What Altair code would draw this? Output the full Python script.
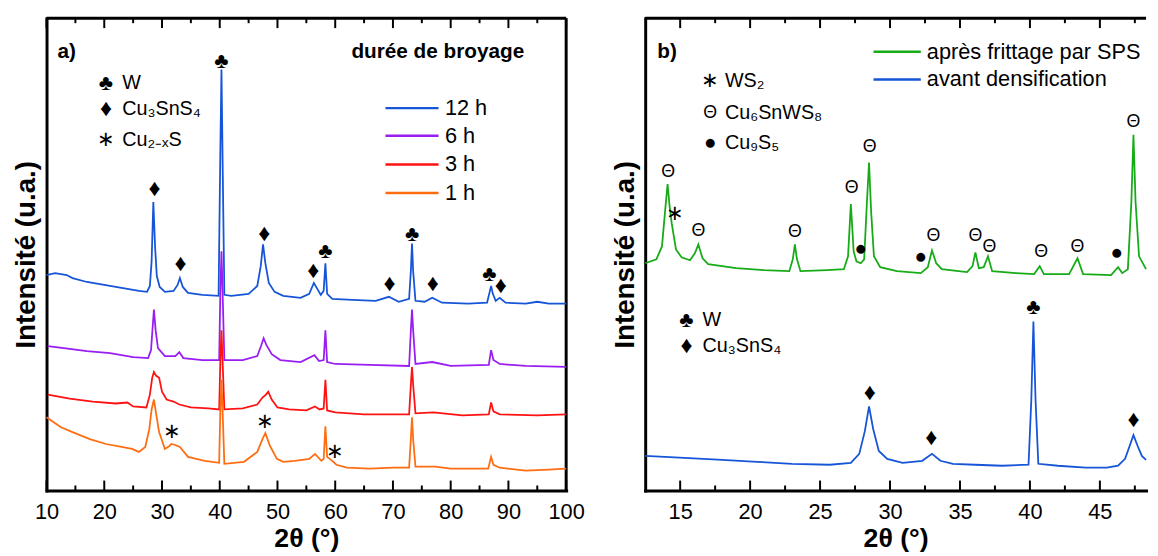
import altair as alt
import pandas as pd

FONT = "Liberation Sans"
PLOT_H = 478
WIDTH_A = 526
WIDTH_B = 507
Y_DOMAIN = [0, 478]
XDOM_A = [10, 100]
XDOM_B = [12.5, 48.3]

# ---------------- panel a : durée de broyage ----------------
series_a = ["12 h", "6 h", "3 h", "1 h"]
colors_a = ["#1655d8", "#9a1ef2", "#ff1212", "#ff6d12"]

theta_12h = [10.0, 11.5, 13.5, 14.5, 17.0, 20.0, 23.0, 26.0, 27.4, 27.9, 28.2, 28.5, 28.8, 29.1, 29.6,
             30.5, 32.0, 32.7, 33.1, 33.6, 34.5, 37.0, 39.8, 40.1, 40.3, 40.5, 40.8, 42.0, 45.0, 46.5,
             47.1, 47.5, 47.9, 48.5, 49.5, 51.0, 54.0, 55.5, 56.3, 56.9, 57.5, 58.0, 58.3, 58.6, 59.5,
             63.0, 67.0, 69.3, 71.0, 72.8, 73.1, 73.3, 73.5, 73.9, 75.5, 76.8, 78.5, 83.0, 86.3, 86.8,
             87.0, 87.3, 87.8, 88.5, 89.5, 93.0, 95.0, 97.0, 100.0]
int_12h = [218, 220, 218, 215, 211, 208, 205, 202, 201, 207, 232, 292, 247, 217, 206,
           201, 202, 208, 215, 206, 200, 198, 197, 342, 426, 332, 198, 197, 199, 207,
           227, 249, 230, 210, 201, 197, 195, 199, 210, 204, 198, 202, 230, 199, 194,
           193, 192, 196, 191, 194, 222, 250, 222, 192, 191, 195, 190, 189, 190, 202,
           207, 199, 192, 195, 190, 189, 191, 189, 189]

theta_6h = [10.2, 13.0, 17.0, 21.0, 25.0, 27.6, 28.1, 28.4, 28.6, 28.9, 29.3, 30.5, 32.3, 33.0, 33.7,
            37.0, 39.9, 40.1, 40.3, 40.5, 40.8, 44.0, 46.5, 47.2, 47.6, 48.1, 49.0, 50.5, 54.0, 56.4,
            57.2, 58.0, 58.3, 58.6, 60.0, 66.0, 72.8, 73.1, 73.3, 73.5, 73.9, 76.8, 80.0, 86.6, 87.0,
            87.4, 88.5, 93.0, 100.0]
int_6h = [146, 144, 141, 139, 135, 134, 142, 167, 183, 162, 144, 136, 136, 140, 134,
          132, 132, 200, 242, 200, 132, 132, 136, 147, 154, 147, 138, 132, 130, 137,
          131, 132, 162, 130, 128, 127, 126, 162, 183, 162, 128, 130, 126, 127, 142,
          132, 128, 126, 125]

theta_3h = [10.2, 14.0, 18.0, 22.0, 24.0, 25.0, 27.3, 27.9, 28.3, 28.6, 29.0, 29.5, 30.0, 30.8, 32.0,
            33.0, 35.0, 38.0, 39.9, 40.1, 40.3, 40.5, 40.8, 44.0, 46.5, 47.4, 48.0, 48.4, 49.0, 50.0,
            52.0, 55.0, 56.5, 57.3, 58.0, 58.3, 58.6, 60.0, 65.0, 72.8, 73.1, 73.3, 73.5, 73.9, 77.0,
            82.0, 86.6, 87.0, 87.4, 88.5, 95.0, 100.0]
int_3h = [97, 93, 90, 88, 89, 85, 84, 97, 114, 120, 116, 114, 100, 92, 90,
          87, 84, 83, 82, 130, 162, 130, 82, 83, 87, 94, 97, 100, 92, 84,
          82, 81, 85, 82, 83, 112, 81, 79, 77, 77, 107, 125, 107, 78, 79,
          76, 77, 89, 80, 77, 76, 77]

theta_1h = [10.0, 11.0, 12.5, 14.5, 17.5, 20.3, 23.0, 24.8, 26.0, 27.1, 27.8, 28.2, 28.6, 29.0, 29.5,
            30.5, 31.3, 31.6, 32.3, 33.1, 34.5, 37.4, 39.9, 40.1, 40.3, 40.5, 40.8, 44.2, 46.5, 47.4,
            47.9, 48.7, 49.9, 51.0, 53.0, 55.5, 56.5, 57.6, 58.0, 58.3, 58.6, 59.5, 60.2, 62.0, 66.0,
            70.0, 72.8, 73.1, 73.3, 73.5, 73.9, 77.3, 80.0, 86.5, 87.0, 87.4, 88.5, 93.0, 97.0, 100.0]
int_1h = [74, 70, 64, 59, 52, 47, 44, 42, 39, 44, 62, 82, 92, 77, 59,
          42, 45, 47, 46, 44, 34, 30, 28, 80, 112, 80, 27, 29, 39, 52,
          58, 45, 32, 29, 30, 32, 37, 30, 32, 65, 34, 30, 26, 23, 22,
          23, 23, 52, 74, 52, 24, 24, 22, 22, 34, 26, 23, 20, 21, 22]

# peak markers, panel a
peak_a_theta = [40.3, 58.3, 73.3, 86.7, 28.7, 33.2, 47.7, 56.2, 69.4, 76.9, 88.7, 31.7, 47.8, 59.9]
peak_a_int = [435, 242, 260, 219, 305, 229, 260, 222, 209, 209, 207, 59, 69, 39]
peak_a_sym = ["♣", "♣", "♣", "♣", "♦", "♦", "♦", "♦", "♦", "♦", "♦", "∗", "∗", "∗"]

key_a_sym = ["♣", "♦", "∗"]
key_a_label = ["W", "Cu₃SnS₄", "Cu₂₋ₓS"]
key_a_int = [412, 386, 355]
key_a_sym_theta = 20.3
key_a_label_theta = 23.1

bold_a_text = ["a)", "durée de broyage"]
bold_a_theta = [11.9, 62.8]
bold_a_int = [444, 444]

legend_a_start = 68.7
legend_a_end = 77.9
legend_a_label = 79.0
legend_a_int = [387, 359, 330, 301]

# ---------------- panel b : SPS ----------------
series_b = ["après frittage par SPS", "avant densification"]
colors_b = ["#17ab17", "#1655d8"]

theta_sps = [12.5, 13.3, 13.7, 13.95, 14.1, 14.25, 14.4, 14.7, 15.1, 15.7, 16.05, 16.3, 16.6, 17.0, 19.0,
             21.0, 22.8, 23.05, 23.2, 23.35, 23.6, 25.5, 26.7, 27.0, 27.2, 27.4, 27.6, 27.9, 28.15, 28.35,
             28.5, 28.65, 28.85, 29.3, 30.5, 32.2, 32.7, 33.0, 33.3, 33.7, 35.5, 35.9, 36.1, 36.35, 36.7,
             37.0, 37.3, 39.0, 40.3, 40.7, 41.0, 42.8, 43.4, 43.8, 45.8, 46.3, 46.6, 47.0, 47.25, 47.4,
             47.55, 47.8, 48.3]
int_sps = [230, 234, 247, 287, 310, 287, 270, 244, 236, 233, 240, 249, 235, 229, 225,
           223, 222, 234, 249, 234, 222, 223, 224, 237, 290, 242, 232, 230, 234, 292,
           332, 282, 237, 226, 222, 220, 226, 243, 230, 224, 221, 227, 241, 225, 226,
           237, 222, 220, 219, 227, 219, 219, 235, 219, 218, 226, 220, 224, 292, 360,
           292, 237, 224]

theta_avant = [12.5, 15.3, 18.0, 20.5, 23.0, 25.7, 27.2, 27.8, 28.2, 28.5, 28.8, 29.2, 29.8, 30.9, 32.3,
               33.0, 33.6, 34.5, 36.1, 38.0, 39.9, 40.1, 40.25, 40.4, 40.6, 42.0, 44.0, 45.5, 46.3, 46.8,
               47.1, 47.4, 47.7, 48.0, 48.3]
int_avant = [35, 33, 31, 29, 27, 26, 28, 37, 60, 85, 62, 40, 32, 28, 30,
             37, 30, 27, 26, 25, 26, 92, 171, 92, 27, 25, 23, 23, 25, 32,
             44, 56, 45, 35, 31]

peak_b_theta = [14.15, 16.3, 23.2, 27.25, 28.55, 33.1, 36.1, 37.1, 40.8, 43.4, 47.4,
                14.6, 27.9, 32.2, 46.2, 40.25, 28.55, 32.95, 47.4]
peak_b_int = [322, 263, 262, 306, 348, 257, 258, 246, 241, 246, 373,
              280, 244, 236, 240, 186, 99, 53, 71]
peak_b_sym = ["Θ"] * 11 + ["∗", "●", "●", "●", "♣", "♦", "♦", "♦"]

key_b_sym = ["∗", "Θ", "●", "♣", "♦"]
key_b_label = ["WS₂", "Cu₆SnWS₈", "Cu₉S₅", "W", "Cu₃SnS₄"]
key_b_int = [414, 382, 352, 172, 146]
key_b_sym_theta = [17.15, 17.15, 17.15, 15.45, 15.45]
key_b_label_theta = [18.2, 18.2, 18.2, 16.6, 16.6]

bold_b_text = ["b)"]
bold_b_theta = [13.37]
bold_b_int = [444]

legend_b_start = 28.82
legend_b_end = 32.2
legend_b_label = 32.63
legend_b_int = [444, 416]

# tick values (major / minor) and tick lengths in intensity units (1 unit = 1 px)
major_a = [10, 20, 30, 40, 50, 60, 70, 80, 90, 100]
minor_a = [15, 25, 35, 45, 55, 65, 75, 85, 95]
major_b = [15, 20, 25, 30, 35, 40, 45]
minor_b = [17.5, 22.5, 27.5, 32.5, 37.5, 42.5, 47.5]
MAJOR_LEN = 10
MINOR_LEN = 5

SYM_SIZE = {"♣": 22, "♦": 24, "∗": 21, "Θ": 18, "●": 21}


def curves(names, thetas, ints):
    rows = []
    for name, th, iv in zip(names, thetas, ints):
        assert len(th) == len(iv), name
        for k, (t, v) in enumerate(zip(th, iv)):
            rows.append({"series": name, "theta": t, "intensity": v, "i": k})
    return pd.DataFrame(rows)


def main_x_axis(values):
    return alt.Axis(orient="bottom", values=values, format="d", labels=True, labelFont=FONT,
                    labelFontSize=22, labelColor="black", labelPadding=11, labelFlush=False,
                    labelOverlap=False, ticks=False, tickSize=0, domain=True, domainColor="black",
                    domainWidth=3, domainCap="square", grid=False, title="2θ (°)", titleFont=FONT,
                    titleFontSize=27, titleFontWeight="bold", titleColor="black", titlePadding=4)


def main_y_axis():
    return alt.Axis(orient="left", labels=False, ticks=False, domain=True, domainColor="black",
                    domainWidth=3, domainCap="square", grid=False, title="Intensité (u.a.)",
                    titleFont=FONT, titleFontSize=28, titleFontWeight="bold", titleColor="black",
                    titlePadding=6)


class Panel:
    """Shared x / y definitions: every layer carries the same scale and axis, so they merge."""

    def __init__(self, xdom, xvals):
        self.xdom = xdom
        self.xvals = xvals

    def X(self, field):
        return alt.X(field, type="quantitative", scale=alt.Scale(domain=self.xdom, nice=False, zero=False),
                     axis=main_x_axis(self.xvals))

    def Y(self, field):
        return alt.Y(field, type="quantitative", scale=alt.Scale(domain=Y_DOMAIN, nice=False, zero=False),
                     axis=main_y_axis())


def line_layers(p, df, names, cscale):
    return [
        alt.Chart(df).transform_filter(alt.datum.series == name).mark_line(strokeWidth=1.8).encode(
            x=p.X("theta"), y=p.Y("intensity"),
            color=alt.Color("series:N", scale=cscale, legend=None),
            order="i:Q",
        )
        for name in names
    ]


def key_layers(p, names, cscale, start, end, label_x, ints):
    df = pd.DataFrame({"series": names, "theta": [start] * len(names), "le": [end] * len(names),
                       "lx": [label_x] * len(names), "intensity": ints})
    rules = alt.Chart(df).mark_rule(strokeWidth=2.5).encode(
        x=p.X("theta"), x2="le:Q", y=p.Y("intensity"),
        color=alt.Color("series:N", scale=cscale, legend=None),
    )
    labels = alt.Chart(df).mark_text(align="left", baseline="middle", font=FONT, fontSize=22,
                                     color="black").encode(
        x=p.X("lx"), y=p.Y("intensity"), text="series:N",
    )
    return [rules, labels]


def frame_layers(p, major, minor, right_edge):
    """Inward ticks on bottom and top edges, top edge line and (optionally) right edge line."""
    ymin, ymax = Y_DOMAIN
    rows = []
    for vals, ln in ((major, MAJOR_LEN), (minor, MINOR_LEN)):
        for v in vals:
            rows.append({"theta": v, "intensity": ymin, "y1": ymin + ln})
            rows.append({"theta": v, "intensity": ymax, "y1": ymax - ln})
    ticks = alt.Chart(pd.DataFrame(rows)).mark_rule(strokeWidth=2).encode(
        x=p.X("theta"), y=p.Y("intensity"), y2="y1:Q",
        color=alt.value("black"),
    )
    top = alt.Chart(pd.DataFrame({"theta": [p.xdom[0]], "x1": [p.xdom[1]], "intensity": [ymax]})).mark_rule(
        strokeWidth=3).encode(
        x=p.X("theta"), x2="x1:Q", y=p.Y("intensity"), color=alt.value("black"),
    )
    layers = [ticks, top]
    if right_edge:
        right = alt.Chart(pd.DataFrame({"theta": [p.xdom[1]], "intensity": [ymin], "y1": [ymax]})).mark_rule(
            strokeWidth=3).encode(
            x=p.X("theta"), y=p.Y("intensity"), y2="y1:Q", color=alt.value("black"),
        )
        layers.append(right)
    return layers


def text_layer(p, df, align, weight="normal"):
    return alt.Chart(df).mark_text(align=align, baseline="middle", font=FONT, fontWeight=weight,
                                   color="black").encode(
        x=p.X("theta"), y=p.Y("intensity"),
        text="label:N",
        size=alt.Size("fs:Q", scale=None),
    )


def labels_df(thetas, ints, labels, sizes):
    df = pd.DataFrame({"theta": thetas, "intensity": ints, "label": labels})
    df["fs"] = sizes
    return df


# ---------- build panel a ----------
pa = Panel(XDOM_A, major_a)
cscale_a = alt.Scale(domain=series_a, range=colors_a)
df_a = curves(series_a, [theta_12h, theta_6h, theta_3h, theta_1h], [int_12h, int_6h, int_3h, int_1h])

peaks_a = labels_df(peak_a_theta, peak_a_int, peak_a_sym, [SYM_SIZE[s] for s in peak_a_sym])
keysym_a = labels_df([key_a_sym_theta] * 3, key_a_int, key_a_sym, [SYM_SIZE[s] for s in key_a_sym])
keylab_a = labels_df([key_a_label_theta] * 3, key_a_int, key_a_label, 20)
bold_a = labels_df(bold_a_theta, bold_a_int, bold_a_text, 21)

panel_a = alt.layer(
    *frame_layers(pa, major_a, minor_a, True),
    *line_layers(pa, df_a, series_a, cscale_a),
    *key_layers(pa, series_a, cscale_a, legend_a_start, legend_a_end, legend_a_label, legend_a_int),
    text_layer(pa, peaks_a, "center"),
    text_layer(pa, keysym_a, "center"),
    text_layer(pa, keylab_a, "left"),
    text_layer(pa, bold_a, "left", "bold"),
).properties(width=WIDTH_A, height=PLOT_H)

# ---------- build panel b ----------
pb = Panel(XDOM_B, major_b)
cscale_b = alt.Scale(domain=series_b, range=colors_b)
df_b = curves(series_b, [theta_sps, theta_avant], [int_sps, int_avant])

peaks_b = labels_df(peak_b_theta, peak_b_int, peak_b_sym, [SYM_SIZE[s] for s in peak_b_sym])
keysym_b = labels_df(key_b_sym_theta, key_b_int, key_b_sym, [SYM_SIZE[s] for s in key_b_sym])
keylab_b = labels_df(key_b_label_theta, key_b_int, key_b_label, 20)
bold_b = labels_df(bold_b_theta, bold_b_int, bold_b_text, 21)

panel_b = alt.layer(
    *frame_layers(pb, major_b, minor_b, False),
    *line_layers(pb, df_b, series_b, cscale_b),
    *key_layers(pb, series_b, cscale_b, legend_b_start, legend_b_end, legend_b_label, legend_b_int),
    text_layer(pb, peaks_b, "center"),
    text_layer(pb, keysym_b, "center"),
    text_layer(pb, keylab_b, "left"),
    text_layer(pb, bold_b, "left", "bold"),
).properties(width=WIDTH_B, height=PLOT_H)

chart = alt.hconcat(panel_a, panel_b, spacing=27).resolve_scale(
    color="independent"
).properties(
    padding={"left": 5, "top": 5, "right": 0, "bottom": 0}
).configure_view(stroke=None)

chart.save("out.html", embed_options={"renderer": "svg", "actions": False})
